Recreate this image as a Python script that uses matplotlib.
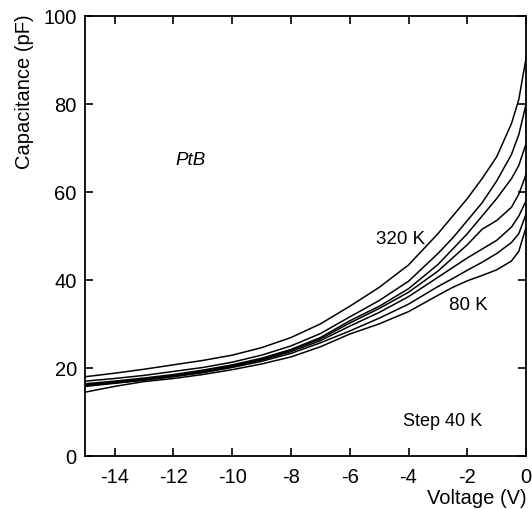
import matplotlib.pyplot as plt

plt.rcParams['font.family'] = ['Liberation Sans', 'DejaVu Sans']
plt.rcParams['axes.unicode_minus'] = False

# bias voltage (V)
voltage = [-15, -14, -13, -12, -11, -10, -9, -8, -7, -6, -5, -4, -3,
           -2.5, -2, -1.5, -1, -0.5, -0.25, 0]

# capacitance (pF), one curve per temperature, 320 K down to 80 K
c_320 = [18.0, 18.8, 19.7, 20.7, 21.7, 22.9, 24.6, 26.9, 30.0, 34.0, 38.3, 43.4,
         50.5, 54.5, 58.5, 63.0, 68.0, 75.5, 81.0, 90.5]
c_280 = [17.0, 17.6, 18.3, 19.2, 20.1, 21.3, 22.9, 25.0, 27.8, 31.6, 35.3, 39.7,
         46.0, 49.5, 53.5, 57.5, 62.5, 68.5, 73.0, 80.0]
c_240 = [16.4, 17.0, 17.7, 18.5, 19.5, 20.7, 22.2, 24.2, 26.9, 30.7, 34.0, 38.0,
         43.5, 47.0, 50.5, 54.5, 58.5, 63.0, 66.0, 71.0]
c_200 = [16.2, 16.8, 17.5, 18.3, 19.3, 20.5, 22.0, 24.0, 26.6, 30.2, 33.5, 37.2,
         42.0, 45.0, 48.0, 51.5, 53.5, 56.5, 59.5, 64.0]
c_160 = [16.0, 16.6, 17.3, 18.1, 19.1, 20.3, 21.8, 23.7, 26.2, 29.5, 32.6, 36.2,
         40.6, 42.8, 45.0, 47.0, 49.0, 52.0, 54.5, 58.0]
c_120 = [15.8, 16.5, 17.2, 18.0, 18.9, 20.1, 21.5, 23.3, 25.7, 28.4, 31.3, 34.5,
         38.5, 40.3, 42.2, 44.0, 46.0, 48.5, 50.5, 55.0]
c_80 = [14.5, 15.8, 16.9, 17.6, 18.5, 19.6, 20.9, 22.5, 24.8, 27.7, 30.0, 32.8,
        36.5, 38.3, 39.8, 41.0, 42.3, 44.3, 46.5, 52.0]

curves = [c_320, c_280, c_240, c_200, c_160, c_120, c_80]

fig = plt.figure(figsize=(5.32, 5.10), dpi=100)
ax = fig.add_axes([0.160, 0.104, 0.829, 0.863])

for c in curves:
    ax.plot(voltage, c, color='black', lw=1.1)

ax.set_xlim(-15, 0)
ax.set_ylim(0, 100)
ax.set_xticks([-14, -12, -10, -8, -6, -4, -2, 0])
ax.set_yticks([0, 20, 40, 60, 80, 100])
ax.tick_params(direction='in', length=6, width=1.2, top=True, right=True,
               labelsize=14.5)
ax.tick_params(axis='x', pad=8)
ax.tick_params(axis='y', pad=6)
for s in ax.spines.values():
    s.set_linewidth(1.3)

ax.set_ylabel('Capacitance (pF)', fontsize=14.5)
ax.yaxis.set_label_coords(-0.115, 1.005)
ax.yaxis.label.set_horizontalalignment('right')
ax.set_xlabel('Voltage (V)', fontsize=14.5)
ax.xaxis.set_label_coords(1.0, -0.072)
ax.xaxis.label.set_horizontalalignment('right')

ax.text(-11.4, 67.3, 'PtB', fontsize=13.5, style='italic', ha='center', va='center')
ax.text(-4.27, 49.5, '320 K', fontsize=13.5, ha='center', va='center')
ax.text(-1.97, 34.3, '80 K', fontsize=13.5, ha='center', va='center')
ax.text(-2.85, 8.0, 'Step 40 K', fontsize=13, ha='center', va='center')

fig.savefig('out.png', dpi=100)
